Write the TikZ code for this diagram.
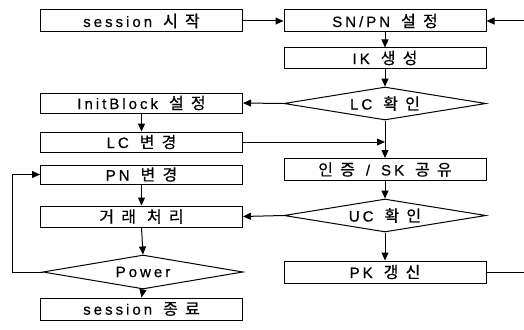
\documentclass[tikz,border=0pt]{standalone}
\usepackage{fontspec}
\setmainfont{Liberation Sans}[LetterSpace=20,FakeBold=0.6]
\newfontfamily\kor{Noto Sans CJK KR}[LetterSpace=45,FakeBold=0.6]
\usetikzlibrary{arrows.meta,shapes.geometric}
\newcommand\ko[1]{{\fontsize{16}{16}\kor #1}}
\newcommand\gp{\hspace{11pt}}
\newcommand\kend{\hspace{-7pt}}
\tikzset{
  box/.style={draw, line width=1pt, rectangle, minimum width=202pt, inner sep=0pt, font=\fontsize{15}{16}\selectfont},
  dia/.style={draw, line width=1pt, diamond, aspect=7, inner sep=0pt, minimum width=202pt, minimum height=33pt, font=\fontsize{15}{16}\selectfont},
  arr/.style={line width=1pt, -{Triangle[length=8pt,width=7pt]}},
  ln/.style={line width=1pt}
}
\begin{document}
\begin{tikzpicture}[x=1pt,y=-1pt]
\useasboundingbox (0,0) rectangle (524,329);
% right column
\node[box, minimum height=22pt] (snpn) at (385,21) {SN/PN\gp\ko{설정}\kend};
\node[box, minimum height=20pt] (ik) at (385,58) {IK\gp\ko{생성}\kend};
\node[dia] (lc) at (385,103.5) {LC\gp\ko{확인}\kend};
\node[box, minimum height=22pt] (auth) at (385,169.5) {\ko{인증}\gp/\gp SK\gp\ko{공유}\kend};
\node[dia] (uc) at (385,215.5) {UC\gp\ko{확인}\kend};
\node[box, minimum height=22pt] (pk) at (385,272) {PK\gp\ko{갱신}\kend};
% left column
\node[box, minimum height=22pt] (start) at (141.5,21) {session\gp\ko{시작}\kend};
\node[box, minimum height=20pt] (init) at (141.5,103) {InitBlock\gp\ko{설정}\kend};
\node[box, minimum height=20pt] (lcc) at (141.5,142) {LC\gp\ko{변경}\kend};
\node[box, minimum height=19pt] (pn) at (141.5,174.5) {PN\gp\ko{변경}\kend};
\node[box, minimum height=21pt] (deal) at (141.5,216.5) {\ko{거래}\gp\ko{처리}\kend};
\node[dia, minimum width=200pt, minimum height=34pt] (power) at (143,272) {Power};
\node[box, minimum height=22pt] (end) at (141.5,309) {session\gp\ko{종료}\kend};
% edge coordinates
\coordinate (r1) at (524,21);
\coordinate (r2) at (524,272);
\coordinate (lx) at (12,272);
% connectors
\draw[arr] (start.east) -- (snpn.west);
\draw[arr] (r1) -- (snpn.east);
\draw[arr] (snpn.south) -- (ik.north);
\draw[arr] (ik.south) -- (lc.north);
\draw[arr] (lc.west) -- (init.east);
\draw[arr] (init.south) -- (lcc.north);
\draw[arr] (lcc.east) -- (lcc.east -| lc.south);
\draw[arr] (lc.south) -- (auth.north);
\draw[arr] (auth.south) -- (uc.north);
\draw[arr] (uc.west) -- (deal.east);
\draw[arr] (uc.south) -- (pk.north);
\draw[ln] (pk.east) -- (r2);
\draw[arr] (pn.south) -- (deal.north);
\draw[arr] (deal.south) -- (power.north);
\draw[arr] (power.west) -- (lx) |- (pn.west);
\draw[arr] (power.south) -- (end.north);
\end{tikzpicture}
\end{document}
